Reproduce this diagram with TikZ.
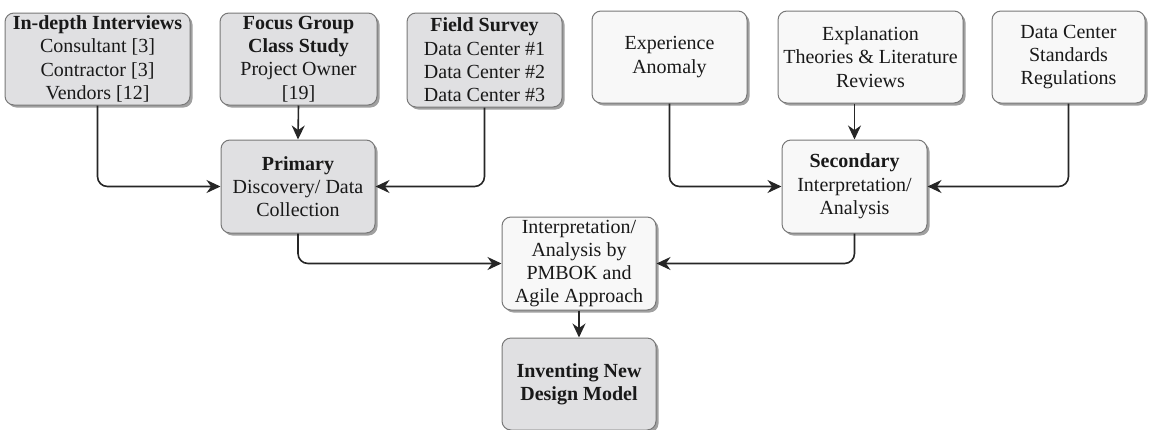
\documentclass[tikz,border=0pt]{standalone}
\usepackage{fontspec}
\setmainfont{Liberation Serif}
\usetikzlibrary{arrows.meta,shadows}
\definecolor{darkfill}{RGB}{224,224,226}
\definecolor{lightfill}{RGB}{248,248,248}
\definecolor{edgegray}{RGB}{120,120,120}
\tikzset{
  boxbase/.style={draw=edgegray, line width=1pt, rounded corners=9pt, align=center, inner sep=0pt,
    font=\fontsize{20}{23.3}\selectfont, text=black!90,
    drop shadow={shadow xshift=2.5pt, shadow yshift=-2.5pt, fill=black!50, opacity=0.75}},
  darkbox/.style={boxbase, fill=darkfill},
  lightbox/.style={boxbase, fill=lightfill},
  conn/.style={line width=1.6pt, draw=black!85, rounded corners=10pt, -{Stealth[length=14pt,width=13pt]}}
}
\begin{document}
\begin{tikzpicture}[x=1pt,y=-1pt]
\useasboundingbox (0,0) rectangle (1154,429);
\node[darkbox, minimum width=185pt, minimum height=92pt] (b1) at (97.5,59) {\textbf{In-depth Interviews}\\Consultant [3]\\Contractor [3]\\Vendors [12]};
\node[darkbox, minimum width=157pt, minimum height=92pt] (b2) at (298.5,59) {\textbf{Focus Group}\\\textbf{Class Study}\\Project Owner\\{[19]}};
\node[darkbox, minimum width=155pt, minimum height=94pt] (b3) at (484.5,60) {\textbf{Field Survey}\\Data Center \#1\\Data Center \#2\\Data Center \#3};
\node[lightbox, minimum width=155pt, minimum height=92pt] (b4) at (669.5,57) {Experience\\Anomaly};
\node[lightbox, minimum width=185pt, minimum height=92pt] (b5) at (870.5,57) {Explanation\\Theories \& Literature\\Reviews};
\node[lightbox, minimum width=153pt, minimum height=92pt] (b6) at (1068.5,57) {Data Center\\Standards\\Regulations};
\node[darkbox, minimum width=154pt, minimum height=93pt] (pri) at (298,186.5) {\textbf{Primary}\\Discovery/ Data\\Collection};
\node[lightbox, minimum width=145pt, minimum height=93pt] (sec) at (854.5,186.5) {\textbf{Secondary}\\Interpretation/\\Analysis};
\node[lightbox, minimum width=154pt, minimum height=93pt] (ana) at (579,263.5) {Interpretation/\\Analysis by\\PMBOK and\\Agile Approach};
\node[darkbox, minimum width=154pt, minimum height=92pt] (inv) at (579,384) {\textbf{Inventing New}\\\textbf{Design Model}};
\draw[conn] (b1.south) -- (b1.south |- pri.west) -- (pri.west);
\draw[conn] (b2.south) -- (pri.north);
\draw[conn] (b3.south) -- (b3.south |- pri.east) -- (pri.east);
\draw[conn] (b4.south) -- (b4.south |- sec.west) -- (sec.west);
\draw[conn] (sec.north |- b5.south) -- (sec.north);
\draw[conn] (b6.south) -- (b6.south |- sec.east) -- (sec.east);
\draw[conn] (pri.south) -- (pri.south |- ana.west) -- (ana.west);
\draw[conn] (sec.south) -- (sec.south |- ana.east) -- (ana.east);
\draw[conn] (ana.south) -- (inv.north);
\end{tikzpicture}
\end{document}
